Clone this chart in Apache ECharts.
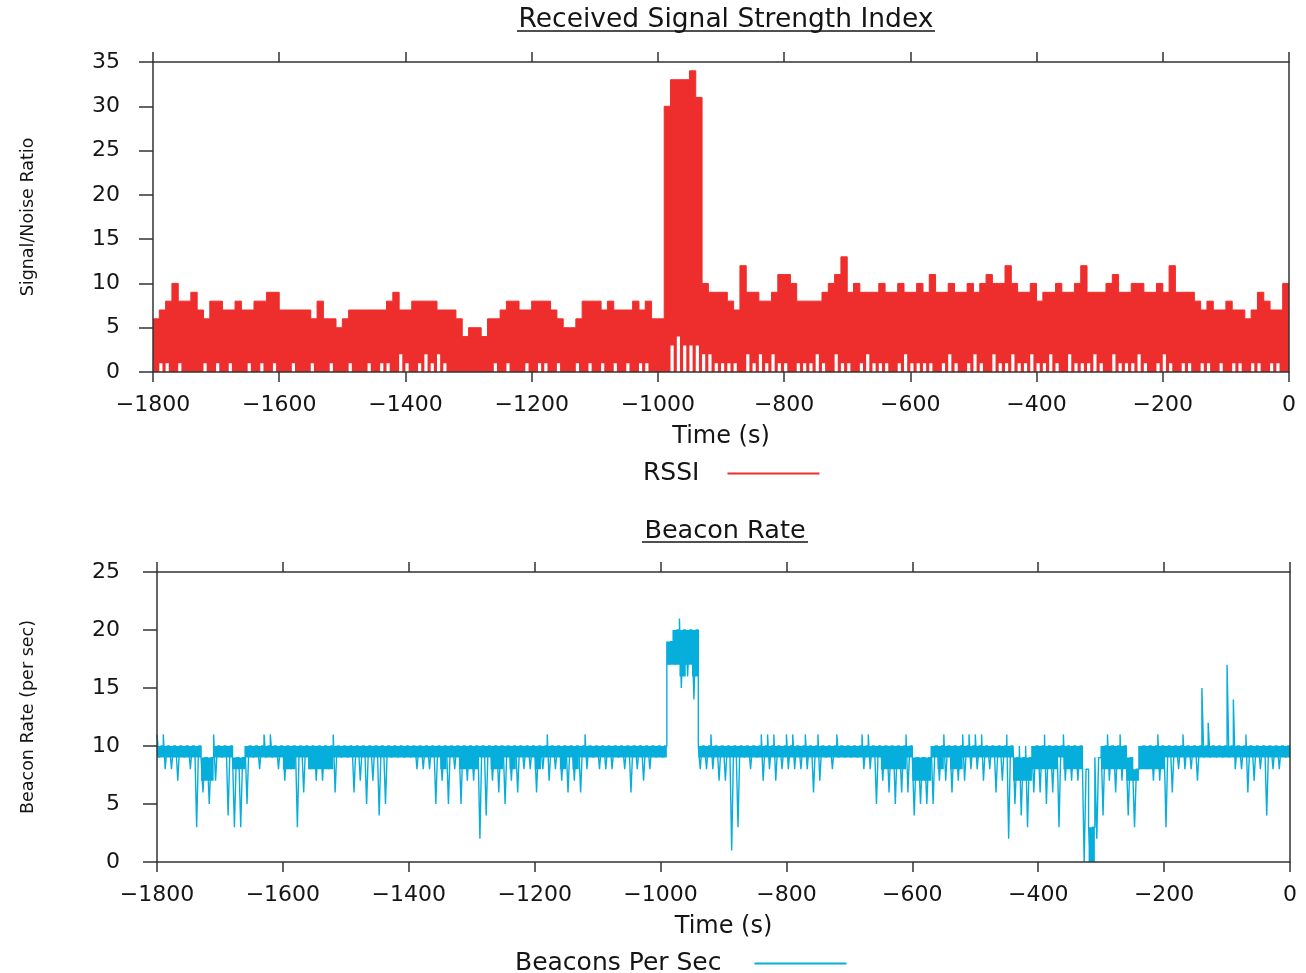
<!DOCTYPE html>
<html>
<head>
<meta charset="utf-8">
<title>Received Signal Strength Index / Beacon Rate</title>
<script src="https://cdn.jsdelivr.net/npm/echarts@6/dist/echarts.min.js"></script>
<style>
html, body { margin: 0; padding: 0; background: #fff; }
#main { width: 1306px; height: 973px; }
</style>
</head>
<body>
<div id="main"></div>
<script>
// samples in 10 s bins, from -1800 s up to 0 s
var binStart = -1800;
var binWidth = 10;

// RSSI: top of the red band in each bin, and the height of the white notches under it
var rssiHigh = [
	6,7,8,10,8,8,9,7,6,8,
	8,7,7,8,7,7,8,8,9,9,
	7,7,7,7,7,6,8,6,6,5,
	6,7,7,7,7,7,7,8,9,7,
	7,8,8,8,8,7,7,7,6,4,
	5,5,4,6,6,7,8,8,7,7,
	8,8,8,7,6,5,5,6,8,8,
	8,7,8,7,7,7,8,7,8,6,
	6,30,33,33,33,34,31,10,9,9,
	9,8,7,12,9,9,8,8,9,11,
	11,10,8,8,8,8,9,10,11,13,
	9,10,9,9,9,10,9,9,10,9,
	9,10,9,11,9,9,10,9,9,10,
	9,10,11,10,10,12,10,9,9,10,
	8,9,9,10,9,9,10,12,9,9,
	9,10,11,9,9,10,10,9,9,10,
	9,12,9,9,9,8,7,8,7,7,
	8,7,7,6,7,9,8,7,7,10
];
var rssiLow = [
	0,1,1,0,1,0,0,0,1,0,
	1,0,1,0,0,1,0,1,0,1,
	0,0,1,0,0,1,0,0,1,0,
	0,1,0,0,1,0,1,1,0,2,
	1,0,1,2,1,2,1,0,0,0,
	0,0,0,0,1,0,1,0,0,1,
	0,1,1,0,1,0,0,1,0,1,
	0,1,0,1,0,1,0,1,1,0,
	0,0,3,4,3,3,3,2,2,1,
	1,1,1,0,2,1,2,1,2,1,
	1,0,1,1,1,2,1,0,2,1,
	1,0,1,2,1,1,1,0,1,2,
	1,1,1,1,0,1,2,1,0,1,
	2,1,0,2,1,1,2,1,1,2,
	1,1,2,1,0,2,1,1,1,2,
	1,0,2,1,1,1,2,1,0,1,
	2,1,0,1,1,0,1,1,0,1,
	0,1,1,0,1,1,0,1,1,0
];

// beacons per second: highest and lowest reading in each bin
var beaconHigh = [
	11,11,10,10,10,10,10,9,9,11,
	10,10,9,9,10,10,10,11,11,10,
	10,10,10,10,10,10,10,10,11,10,
	10,10,10,10,10,10,10,10,10,10,
	10,10,10,10,10,10,10,10,10,10,
	10,10,10,10,10,10,10,10,10,10,
	10,10,11,10,10,10,10,10,11,10,
	10,10,10,10,10,10,10,10,10,10,
	10,19,20,21,20,20,10,10,11,10,
	10,10,10,10,10,10,11,11,11,10,
	11,11,10,11,10,11,10,10,11,10,
	10,10,11,11,10,10,10,10,10,11,
	9,9,9,10,10,11,10,10,11,11,
	11,11,10,10,10,11,10,10,10,10,
	10,11,10,10,11,10,10,9,3,9,
	10,11,10,11,9,8,10,10,10,11,
	10,10,10,11,10,10,15,12,10,10,
	17,14,10,11,10,10,10,10,10,10
];
var beaconLow = [
	9,8,8,7,9,8,3,6,5,7,
	9,4,3,3,5,9,8,9,9,8,
	7,8,3,6,8,7,7,8,6,9,
	9,6,7,5,7,4,5,9,9,9,
	9,8,8,8,5,7,5,8,5,7,
	7,2,4,7,6,5,7,6,8,8,
	6,8,7,8,7,6,7,6,8,9,
	8,8,8,9,8,6,8,7,8,9,
	9,17,17,15,16,14,8,8,8,7,
	7,1,3,9,8,9,7,8,7,8,
	8,8,8,8,6,7,9,8,9,9,
	9,9,8,8,5,7,6,5,6,6,
	4,5,5,5,7,7,6,7,7,8,
	8,7,8,6,7,2,5,4,3,6,
	6,5,6,3,7,7,7,0,0,2,
	4,7,6,7,4,3,8,8,7,7,
	3,6,8,8,8,7,9,9,9,9,
	9,8,8,6,7,8,4,8,8,9
];
// the solid part of the blue trace in each bin (top and bottom)
var beaconBandTop = [
	10,10,10,10,10,10,10,9,9,10,
	10,10,9,9,10,10,10,10,10,10,
	10,10,10,10,10,10,10,10,10,10,
	10,10,10,10,10,10,10,10,10,10,
	10,10,10,10,10,10,10,10,10,10,
	10,10,10,10,10,10,10,10,10,10,
	10,10,10,10,10,10,10,10,10,10,
	10,10,10,10,10,10,10,10,10,10,
	10,19,20,20,20,20,10,10,10,10,
	10,10,10,10,10,10,10,10,10,10,
	10,10,10,10,10,10,10,10,10,10,
	10,10,10,10,10,10,10,10,10,10,
	9,9,9,10,10,10,10,10,10,10,
	10,10,10,10,10,10,9,9,9,10,
	10,10,10,10,10,10,10,8,3,9,
	10,10,10,10,9,8,10,10,10,10,
	10,10,10,10,10,10,10,10,10,10,
	10,10,10,10,10,10,10,10,10,10
];
var beaconBandBottom = [
	9,9,9,9,9,9,9,7,7,9,
	9,9,8,8,9,9,9,9,9,9,
	8,8,9,9,8,8,8,8,9,9,
	9,9,9,9,9,9,9,9,9,9,
	9,9,9,9,9,8,9,9,8,8,
	8,9,9,8,8,9,8,9,9,9,
	8,9,9,9,8,9,8,9,9,9,
	9,9,9,9,9,9,9,9,9,9,
	9,17,17,16,17,16,9,9,9,9,
	9,9,9,9,9,9,9,9,9,9,
	9,9,9,9,9,9,9,9,9,9,
	9,9,9,9,9,8,8,8,8,9,
	7,7,7,9,8,9,8,8,9,9,
	9,9,9,9,9,9,7,7,7,8,
	8,8,8,9,8,8,8,8,0,9,
	8,8,8,8,7,7,8,8,8,8,
	9,9,9,9,9,9,9,9,9,9,
	9,9,9,9,9,9,9,9,9,9
];

var timeTicks = { min: -1800, max: 0, interval: 200 };
var rssiTicks = { min: 0, max: 35, interval: 5 };
var beaconTicks = { min: 0, max: 25, interval: 5 };

var fontName = 'DejaVu Sans';
var inkColor = '#151515';
var frameColor = '#333';
var redColor = '#ee2e2c';
var blueColor = '#06aedc';

// one point per bin, last value held up to 0 s
function binPoints(vals) {
	var out = [];
	for (var i = 0; i < vals.length; i++) {
		out.push([binStart + i * binWidth, vals[i]]);
	}
	out.push([0, vals[vals.length - 1]]);
	return out;
}

// notch of height lo in the first half of each bin, floor for the rest
function notchPoints(lo, floor) {
	var out = [];
	for (var i = 0; i < lo.length; i++) {
		var t = binStart + i * binWidth;
		out.push([t, lo[i]]);
		out.push([t + binWidth / 2, floor]);
	}
	out.push([0, floor]);
	return out;
}

// short spike to hi, short dip to lo, then back on the band
function spikePoints(hi, lo, top) {
	var out = [];
	for (var i = 0; i < hi.length; i++) {
		var t = binStart + i * binWidth;
		out.push([t, hi[i]]);
		out.push([t + 3, lo[i]]);
		out.push([t + 6, top[i]]);
	}
	out.push([0, top[top.length - 1]]);
	return out;
}

function minusSign(v) {
	return String(v).replace('-', '\u2212');
}

function timeAxes(gridIndex) {
	var line = { show: true, onZero: false, lineStyle: { color: frameColor, width: 1.5 } };
	var tick = { show: true, length: 10, lineStyle: { color: frameColor, width: 1.5 } };
	return [{
		gridIndex: gridIndex,
		type: 'value',
		position: 'bottom',
		min: timeTicks.min,
		max: timeTicks.max,
		interval: timeTicks.interval,
		name: 'Time (s)',
		nameLocation: 'middle',
		nameGap: 53,
		nameTextStyle: { fontFamily: fontName, fontSize: 24, color: inkColor },
		axisLine: line,
		axisTick: tick,
		axisLabel: { margin: 22, fontFamily: fontName, fontSize: 22, color: inkColor, formatter: minusSign },
		splitLine: { show: false },
		z: 5
	}, {
		gridIndex: gridIndex,
		type: 'value',
		position: 'top',
		min: timeTicks.min,
		max: timeTicks.max,
		interval: timeTicks.interval,
		axisLine: line,
		axisTick: tick,
		axisLabel: { show: false },
		splitLine: { show: false },
		z: 5
	}];
}

function valueAxes(gridIndex, ticks, name, nameGap, labelMargin) {
	var line = { show: true, onZero: false, lineStyle: { color: frameColor, width: 1.5 } };
	return [{
		gridIndex: gridIndex,
		type: 'value',
		position: 'left',
		min: ticks.min,
		max: ticks.max,
		interval: ticks.interval,
		name: name,
		nameLocation: 'middle',
		nameGap: nameGap,
		nameTextStyle: { fontFamily: fontName, fontSize: 17.5, color: inkColor },
		axisLine: line,
		axisTick: { show: true, length: 14, lineStyle: { color: frameColor, width: 1.5 } },
		axisLabel: { margin: labelMargin, fontFamily: fontName, fontSize: 22, color: inkColor },
		splitLine: { show: false },
		z: 5
	}, {
		gridIndex: gridIndex,
		type: 'value',
		position: 'right',
		min: ticks.min,
		max: ticks.max,
		interval: ticks.interval,
		axisLine: line,
		axisTick: { show: false },
		axisLabel: { show: false },
		splitLine: { show: false },
		z: 5
	}];
}

var chart = echarts.init(document.getElementById('main'));

var option = {
	backgroundColor: '#fff',
	animation: false,
	title: [{
		text: 'Received Signal Strength Index',
		left: 726,
		top: 7,
		textAlign: 'center',
		padding: 0,
		textStyle: { fontFamily: fontName, fontSize: 26.5, fontWeight: 'normal', color: inkColor }
	}, {
		text: 'Beacon Rate',
		left: 725,
		top: 518,
		textAlign: 'center',
		padding: 0,
		textStyle: { fontFamily: fontName, fontSize: 25.5, fontWeight: 'normal', color: inkColor }
	}],
	graphic: [
		{ type: 'line', shape: { x1: 517, y1: 31, x2: 935, y2: 31 }, style: { stroke: inkColor, lineWidth: 1.5 } },
		{ type: 'line', shape: { x1: 642, y1: 542, x2: 808, y2: 542 }, style: { stroke: inkColor, lineWidth: 1.5 } }
	],
	legend: [{
		data: ['RSSI'],
		left: 643,
		top: 461,
		padding: 0,
		align: 'right',
		icon: 'rect',
		itemWidth: 92,
		itemHeight: 2,
		selectedMode: false,
		textStyle: { fontFamily: fontName, fontSize: 25, color: inkColor, padding: [0, 23, 0, 0] }
	}, {
		data: ['Beacons Per Sec'],
		left: 515,
		top: 951,
		padding: 0,
		align: 'right',
		icon: 'rect',
		itemWidth: 92,
		itemHeight: 2,
		selectedMode: false,
		textStyle: { fontFamily: fontName, fontSize: 25, color: inkColor, padding: [0, 28, 0, 0] }
	}],
	grid: [
		{ left: 153, top: 62, width: 1136, height: 310 },
		{ left: 157, top: 572, width: 1133, height: 290 }
	],
	xAxis: timeAxes(0).concat(timeAxes(1)),
	yAxis: valueAxes(0, rssiTicks, 'Signal/Noise Ratio', 116, 33)
		.concat(valueAxes(1, beaconTicks, 'Beacon Rate (per sec)', 120, 37)),
	series: [{
		name: 'RSSI',
		type: 'line',
		xAxisIndex: 0,
		yAxisIndex: 0,
		data: binPoints(rssiHigh),
		step: 'end',
		symbol: 'none',
		color: redColor,
		lineStyle: { color: redColor, width: 1 },
		areaStyle: { color: redColor, opacity: 1 },
		z: 2
	}, {
		// white notches below the band
		name: 'RSSI notches',
		type: 'line',
		xAxisIndex: 0,
		yAxisIndex: 0,
		data: notchPoints(rssiLow, rssiTicks.min),
		step: 'end',
		symbol: 'none',
		color: '#fff',
		lineStyle: { width: 0, color: '#fff' },
		areaStyle: { color: '#fff', opacity: 1 },
		z: 3
	}, {
		name: 'Beacon band',
		type: 'line',
		xAxisIndex: 2,
		yAxisIndex: 2,
		data: binPoints(beaconBandTop),
		step: 'end',
		symbol: 'none',
		color: blueColor,
		lineStyle: { width: 0, color: blueColor },
		areaStyle: { color: blueColor, opacity: 1 },
		z: 2
	}, {
		name: 'Beacon band floor',
		type: 'line',
		xAxisIndex: 2,
		yAxisIndex: 2,
		data: binPoints(beaconBandBottom),
		step: 'end',
		symbol: 'none',
		color: '#fff',
		lineStyle: { width: 0, color: '#fff' },
		areaStyle: { color: '#fff', opacity: 1 },
		z: 3
	}, {
		name: 'Beacons Per Sec',
		type: 'line',
		xAxisIndex: 2,
		yAxisIndex: 2,
		data: spikePoints(beaconHigh, beaconLow, beaconBandTop),
		step: 'end',
		symbol: 'none',
		color: blueColor,
		lineStyle: { color: blueColor, width: 1.4 },
		z: 4
	}]
};

chart.setOption(option);
</script>
</body>
</html>
